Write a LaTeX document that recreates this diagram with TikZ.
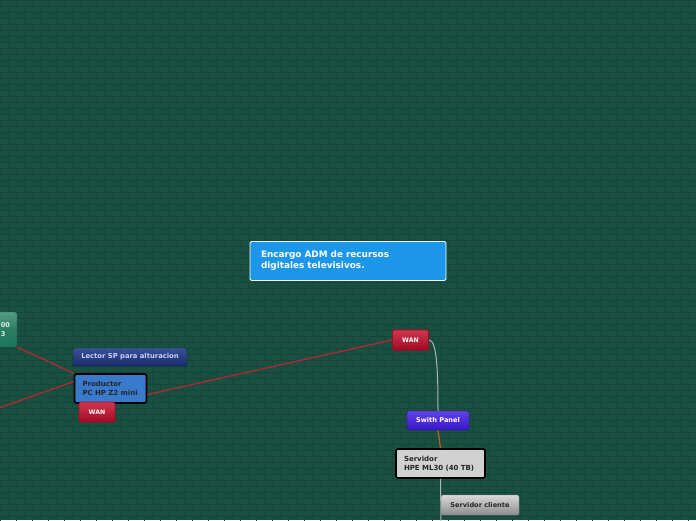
\documentclass[tikz,border=0pt]{standalone}
\usepackage{fontspec}
\setmainfont{DejaVu Sans}
\usepackage{tikz,xcolor}
\usetikzlibrary{positioning}

\definecolor{bgGreen}{RGB}{26,80,66}
\definecolor{brickLine}{RGB}{21,70,57}
\definecolor{mainBlue}{RGB}{28,150,232}
\definecolor{prodBlue}{RGB}{58,122,204}
\definecolor{wanRed}{RGB}{200,20,48}
\definecolor{wanDark}{RGB}{160,10,34}
\definecolor{linkRed}{RGB}{176,40,56}
\definecolor{linkGrey}{RGB}{176,178,176}
\definecolor{linkBrown}{RGB}{190,96,40}
\definecolor{pcTop}{RGB}{84,156,130}
\definecolor{pcBottom}{RGB}{30,118,90}
\definecolor{lectorTop}{RGB}{56,82,150}
\definecolor{lectorBottom}{RGB}{28,44,108}
\definecolor{swithTop}{RGB}{96,66,236}
\definecolor{swithBottom}{RGB}{56,22,196}

\tikzset{
  brick/.style={brickLine, line width=0.4pt},
  topic/.style={rectangle, rounded corners=1.5pt, font=\bfseries, align=left, inner ysep=0pt},
  wanbox/.style={topic, draw=wanDark, line width=0.8pt, top color=wanRed!85!white, bottom color=wanDark,
    text=white, font=\bfseries\fontsize{6.2}{7}\selectfont, minimum width=36pt, minimum height=20pt, align=center},
  redlink/.style={linkRed, line width=1.3pt},
  greylink/.style={linkGrey, line width=1pt}
}

\begin{document}
\begin{tikzpicture}[x=1pt,y=-1pt]
 \useasboundingbox (0,0) rectangle (696,520);
 \clip (0,0) rectangle (696,520);
 \fill[bgGreen] (0,0) rectangle (696,520);
 % brick wall
 \foreach \r in {0,...,86}{
   \pgfmathsetmacro{\off}{mod(\r,2)*8}
   \draw[brick] (0,\r*6) -- (696,\r*6);
   \draw[brick] \foreach \c in {-1,...,44}{(\c*16+\off,\r*6) -- ++(0,6)};
 }

 % nodes
 \node[topic, fill=mainBlue, draw=white, line width=0.9pt, text=white,
   font=\bfseries\fontsize{8.9}{11}\selectfont, text width=174pt, inner xsep=11pt,
   minimum height=39pt] (adm) at (348,261) {Encargo ADM de recursos\\digitales televisivos.};
 \node[topic, top color=pcTop, bottom color=pcBottom, middle color=pcBottom!80!pcTop, draw=pcBottom!70!black,
   text=white!80!pcTop, font=\bfseries\fontsize{6.6}{9}\selectfont, text width=54pt, inner xsep=7pt,
   minimum height=35pt] (pc) at (-17,329.5) {\hfill 00\\\hfill 3\phantom{0}};
 \node[topic, top color=lectorTop, bottom color=lectorBottom, draw=lectorBottom!70!black,
   text=white!80!blue, font=\bfseries\fontsize{6.8}{7}\selectfont, minimum width=114pt,
   minimum height=18pt, align=center] (lector) at (130,357) {Lector SP para alturacion};
 \node[topic, fill=prodBlue, draw=black, line width=1.6pt, text=black!85,
   font=\bfseries\fontsize{7}{9}\selectfont, text width=56pt, inner xsep=8pt,
   minimum height=29pt] (prod) at (110.5,388.5) {Productor\\PC HP Z2 mini};
 \node[wanbox] (wanL) at (97,412) {WAN};
 \node[wanbox] (wanR) at (410.5,340) {WAN};
 \node[topic, top color=swithTop, bottom color=swithBottom, draw=swithBottom!70!black,
   text=white, font=\bfseries\fontsize{6.6}{7}\selectfont, minimum width=62pt, minimum height=19pt,
   align=center] (swith) at (438,420.5) {Swith Panel};
 \node[topic, fill=black!18, draw=black, line width=1.6pt, text=black!85,
   font=\bfseries\fontsize{7}{9}\selectfont, text width=73pt, inner xsep=8pt,
   minimum height=29pt] (serv) at (440.5,463.5) {Servidor\\HPE ML30 (40 TB)};
 \coordinate (offleft) at (-4,409);
 \coordinate (offbottom) at (441,524);

 % connectors
 \draw[redlink] (pc.south east) -- (prod.north west);
 \draw[redlink] ([yshift=7pt]prod.west) -- (offleft);
 \draw[redlink] ([yshift=-6pt]prod.east) -- (wanR.west);
 \draw[greylink] (wanR.east) .. controls +(8,0) and +(0,-40) .. (swith.north);
 \draw[linkBrown, line width=1.2pt] (swith.south) -- (serv.north);
 \draw[greylink] (serv.south) -- (offbottom);
 % boxes drawn over their links
 \node[wanbox] at (wanR) {WAN};
 \node[topic, top color=black!15, bottom color=black!45, draw=black!50,
   text=black!85, font=\bfseries\fontsize{6.6}{7}\selectfont, minimum width=78pt, minimum height=20pt,
   align=center] (cliente) at (480,505) {Servidor cliente};
\end{tikzpicture}
\end{document}
